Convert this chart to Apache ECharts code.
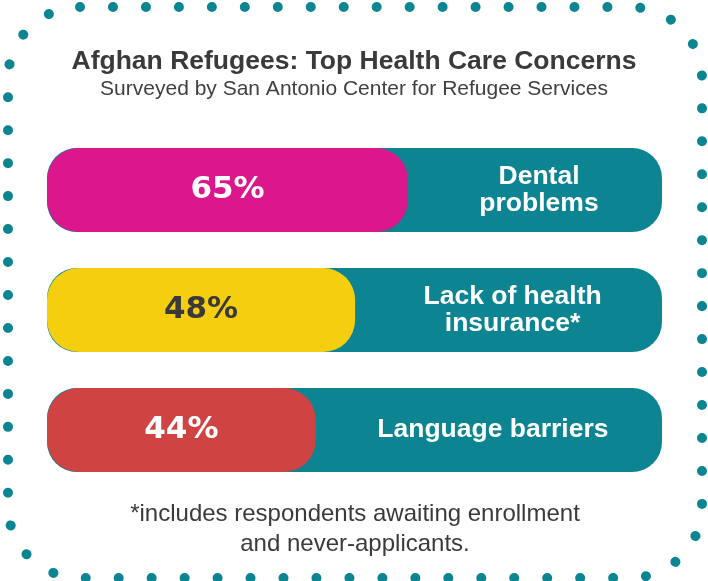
<!DOCTYPE html>
<html>
<head>
<meta charset="utf-8">
<script src="https://cdn.jsdelivr.net/npm/echarts@6/dist/echarts.min.js"></script>
<style>
html,body{margin:0;padding:0;background:#fff;}
#chart{width:708px;height:581px;}
</style>
</head>
<body>
<div id="chart"></div>
<script>
// Concerns (top to bottom)
const categories = ['Dental\nproblems', 'Lack of health\ninsurance*', 'Language barriers'];
// Share of respondents shown in each bar's label (%)
const shares = [65, 48, 44];
// Filled length of each bar as drawn in the picture (% of the full track)
const barFill = [58.7, 50.1, 43.7];
// Full track value
const trackTotal = [100, 100, 100];
const barColors = ['#dc168d', '#f5cf0f', '#cf4442'];
const shareLabelColors = ['#ffffff', '#3a3a3a', '#ffffff'];

const title = 'Afghan Refugees: Top Health Care Concerns';
const subtitle = 'Surveyed by San Antonio Center for Refugee Services';
const footnoteLines = ['*includes respondents awaiting enrollment', 'and never-applicants.'];

const teal = '#0d8492';
const chart = echarts.init(document.getElementById('chart'), null, {renderer: 'canvas'});

// dotted rounded frame
const frame = {x: 8, y: 7, w: 694, h: 571, r: 72};
const perimeter = 2 * (frame.w - 2 * frame.r) + 2 * (frame.h - 2 * frame.r) + 2 * Math.PI * frame.r;
const dotCount = 73;
const dotStep = perimeter / dotCount;

const option = {
  animation: false,
  backgroundColor: '#ffffff',
  title: [
    {
      text: title,
      subtext: subtitle,
      left: 'center',
      top: 43,
      itemGap: 4,
      textStyle: {fontFamily: 'Liberation Sans', fontWeight: 'bold', fontSize: 26.5, color: '#3a3a3a'},
      subtextStyle: {fontFamily: 'Liberation Sans', fontSize: 21, color: '#404040'}
    }
  ],
  grid: {left: 47, right: 46, top: 130, height: 360},
  xAxis: {type: 'value', min: 0, max: 100, show: false},
  yAxis: {type: 'category', data: categories, inverse: true, show: false},
  graphic: [
    {
      type: 'rect',
      z: -10,
      silent: true,
      shape: {x: frame.x, y: frame.y, width: frame.w, height: frame.h, r: frame.r},
      style: {fill: null, stroke: '#0b8591', lineWidth: 10, lineDash: [0.01, dotStep - 0.01], lineCap: 'round'}
    },
    {
      type: 'text',
      silent: true,
      x: 355,
      y: 499,
      style: {
        text: footnoteLines.join('\n'),
        align: 'center',
        verticalAlign: 'top',
        fontFamily: 'Liberation Sans',
        fontSize: 24,
        lineHeight: 30,
        fill: '#3a3a3a'
      }
    }
  ],
  series: [
    {
      name: 'track',
      type: 'bar',
      barWidth: 84,
      barGap: '-100%',
      silent: true,
      itemStyle: {color: teal, borderRadius: 30},
      data: trackTotal,
      z: 1
    },
    {
      name: 'share',
      type: 'bar',
      stack: 's',
      barWidth: 84,
      barGap: '-100%',
      silent: true,
      z: 2,
      data: barFill.map((v, i) => ({
        value: v,
        itemStyle: {color: barColors[i], borderRadius: 32},
        label: {
          show: true,
          position: 'inside',
          formatter: shares[i] + '%',
          fontFamily: 'DejaVu Sans',
          fontWeight: 'bold',
          fontSize: 31,
          color: shareLabelColors[i]
        }
      }))
    },
    {
      name: 'concern',
      type: 'bar',
      stack: 's',
      barWidth: 84,
      barGap: '-100%',
      silent: true,
      z: 3,
      itemStyle: {color: 'rgba(0,0,0,0)'},
      label: {
        show: true,
        position: 'inside',
        offset: [4, 0],
        formatter: p => categories[p.dataIndex],
        fontFamily: 'Liberation Sans',
        fontWeight: 'bold',
        fontSize: 26.5,
        lineHeight: 27,
        color: '#ffffff',
        align: 'center'
      },
      data: barFill.map((v, i) => trackTotal[i] - v)
    }
  ]
};
chart.setOption(option);
</script>
</body>
</html>
